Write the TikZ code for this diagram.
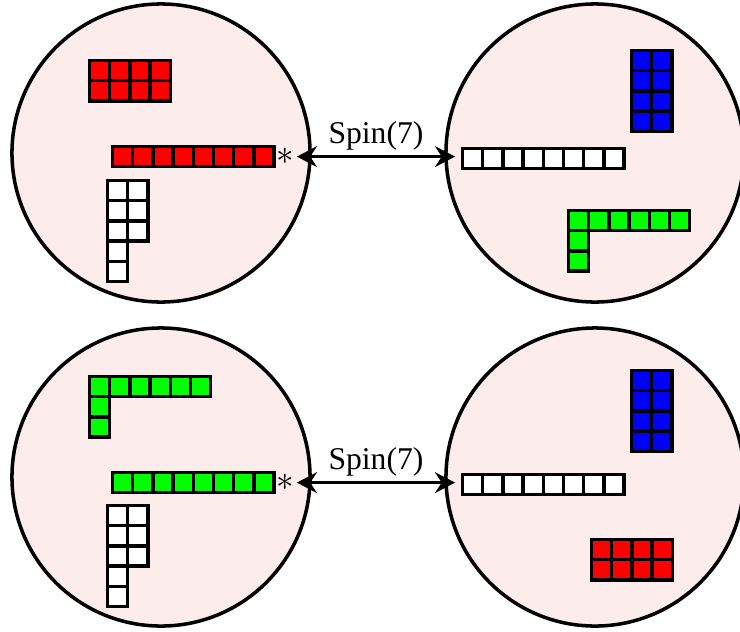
\documentclass[tikz,border=0pt]{standalone}
\usepackage{fontspec}
\setmainfont{Liberation Serif}
\usetikzlibrary{arrows.meta}
\definecolor{pinkbg}{RGB}{253,236,236}
\tikzset{
  >={Stealth[length=5mm,width=5.2mm,inset=1.7mm]},
  ball/.style={circle,draw,fill=pinkbg,minimum size=7.45cm,inner sep=0pt},
  cell/.style={draw},
  ast/.style={inner sep=1pt,font=\fontsize{29}{33}\selectfont},
  lab/.style={midway,above,inner sep=3pt,font=\fontsize{22.5}{26}\selectfont},
  every picture/.style={line width=2.5pt},
}
% young diagram: top left corner, colour, row lengths
\newcommand{\ydiag}[4]{%
  \begin{scope}[shift={(#1,#2)}]
  \foreach \len [count=\r from 0] in {#4}
    \foreach \k in {1,...,\len}
      \draw[cell,fill=#3] ({(\k-1)*20.2},{\r*20.2}) rectangle +(20.2,20.2);
  \end{scope}}

\begin{document}
\begin{tikzpicture}[x=0.025cm,y=-0.025cm]
\useasboundingbox (0,0) rectangle (740,631);
\node[ball] (tl) at (161,153){}; \node[ball] (tr) at (595,153){};
\node[ball] (bl) at (161,477){}; \node[ball] (br) at (595,477){};
% top pair
\ydiag{89.5}{60.5}{red}{4,4} \ydiag{112.5}{146.5}{red}{8} \ydiag{107.5}{180.5}{white}{2,2,2,1,1}
\ydiag{631.5}{50.5}{blue}{2,2,2,2} \ydiag{462.5}{148.5}{white}{8} \ydiag{568.5}{210.5}{green}{6,1,1}
% bottom pair
\ydiag{89.5}{376.5}{green}{6,1,1} \ydiag{112.5}{472.5}{green}{8} \ydiag{107.5}{505.5}{white}{2,2,2,1,1}
\ydiag{631.5}{370.5}{blue}{2,2,2,2} \ydiag{462.5}{474.5}{white}{8} \ydiag{591.5}{539.5}{red}{4,4}
\node[ast] (s1) at (285,156.6){$\ast$}; \coordinate (w1) at (455,156.6);
\node[ast] (s2) at (285,482.6){$\ast$}; \coordinate (w2) at (455,482.6);
\draw[<->] (s1.east) -- (w1) node[lab]{Spin(7)};
\draw[<->] (s2.east) -- (w2) node[lab]{Spin(7)};
\end{tikzpicture}
\end{document}
